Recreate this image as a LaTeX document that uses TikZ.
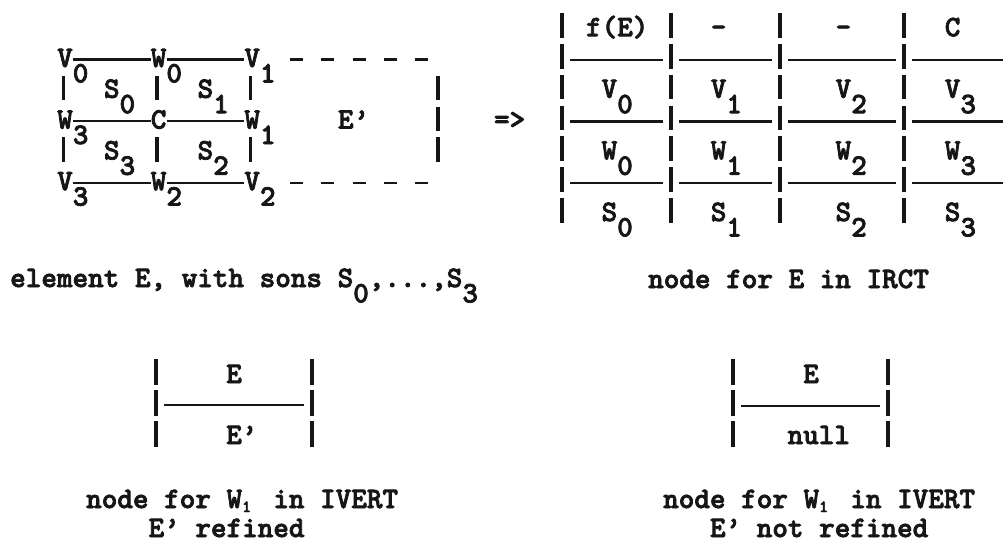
\documentclass[tikz,border=0pt]{standalone}
\usepackage{fontspec}
\definecolor{ink}{RGB}{22,22,22}
% bold typewriter face: 15.6pt per character, 30.8pt per line
\newfontfamily\twface{lmmonolt10-bold.otf}[FakeBold=2.5]
\newcommand\twfont{\twface\fontsize{29.7}{30.8}\selectfont}
% half-line-down digit inside a running line
\newcommand\dn[1]{\raisebox{-15.4pt}{#1}}
% small index digit in the captions, one character cell wide
\newcommand\dnsmall[1]{\makebox[15.6pt][l]{\raisebox{-4pt}{\fontsize{17}{17}\selectfont #1}}}
\begin{document}
\begin{tikzpicture}[x=1pt,y=-1pt,
  txt/.style={inner sep=0pt,anchor=base,font=\twfont,text=ink,text height=15pt,text depth=0pt},
  caption text/.style={inner sep=0pt,anchor=base west,font=\twfont,text=ink},
  hrule/.style={draw=ink,line width=2.4pt},
  vbar/.style={draw=ink,line width=3.2pt},
  dashln/.style={draw=ink,line width=2.4pt,dash pattern=on 13pt off 18.2pt}]
\fill[white] (0,0) rectangle (1006,542);
\useasboundingbox (0,0) rectangle (1006,542);

% ---------- element E with its four sons ----------
\node[txt] (V0) at (65,67) {V};      \node[txt] (V0s) at (80.6,82.4) {0};
\node[txt] (W0) at (158.6,67) {W};   \node[txt] (W0s) at (174.2,82.4) {0};
\node[txt] (V1) at (252.2,67) {V};   \node[txt] (V1s) at (267.8,82.4) {1};
\node[txt] (S0) at (111.8,97.8) {S}; \node[txt] (S0s) at (127.4,113.2) {0};
\node[txt] (S1) at (205.4,97.8) {S}; \node[txt] (S1s) at (221,113.2) {1};
\node[txt] (W3) at (65,128.6) {W};   \node[txt] (W3s) at (80.6,144) {3};
\node[txt] (C)  at (158.6,128.6) {C};
\node[txt] (W1) at (252.2,128.6) {W}; \node[txt] (W1s) at (267.8,144) {1};
\node[txt] (Ep) at (353.6,128.6) {E’};
\node[txt] (S3) at (111.8,159.4) {S}; \node[txt] (S3s) at (127.4,174.8) {3};
\node[txt] (S2) at (205.4,159.4) {S}; \node[txt] (S2s) at (221,174.8) {2};
\node[txt] (V3) at (65,190.2) {V};   \node[txt] (V3s) at (80.6,205.6) {3};
\node[txt] (W2) at (158.6,190.2) {W}; \node[txt] (W2s) at (174.2,205.6) {2};
\node[txt] (V2) at (252.2,190.2) {V}; \node[txt] (V2s) at (267.8,205.6) {2};

\draw[hrule] (V0.east) -- (W0.west);
\draw[hrule] (W0.east) -- (V1.west);
\draw[hrule] (W3.east) -- (C.west);
\draw[hrule] (C.east) -- (W1.west);
\draw[hrule] (V3.east) -- (W2.west);
\draw[hrule] (W2.east) -- (V2.west);

% neighbour E' (dashed outline)
\coordinate (EpTop) at (428,59.5);
\coordinate (EpBot) at (428,182.7);
\draw[dashln] ([xshift=30pt]V1.east) -- (EpTop);
\draw[dashln] ([xshift=30pt]V2.east) -- (EpBot);
\foreach \b in {97.8,128.6,159.4}
  \draw[vbar] (438,\b-22) -- (438,\b+2.5);
% vertical edges between the rows
\foreach \x in {63.5,157,250.5}
  \foreach \b in {97.8,159.4}
    \draw[vbar] (\x,\b-22) -- (\x,\b+2.5);

\node[txt] (goes) at (509.6,128.6) {=>};

\node[caption text] (capE) at (10,287) {element E, with sons S\dn{0},...,S\dn{3}};

% ---------- node for E in IRCT ----------
\node[txt] (fE) at (617.2,36.2) {f(E)};
\node[txt] (n1) at (718.6,36.2) {-};
\node[txt] (n2) at (843.4,36.2) {-};
\node[txt] (tC) at (952.6,36.2) {C};
\foreach \l/\b in {V/97.8,W/159.4,S/221}{
  \node[txt] (t\l0) at (609.4,\b) {\l}; \node[txt] (t\l0s) at (625,\b+15.4) {0};
  \node[txt] (t\l1) at (718.6,\b) {\l}; \node[txt] (t\l1s) at (734.2,\b+15.4) {1};
  \node[txt] (t\l2) at (843.4,\b) {\l}; \node[txt] (t\l2s) at (859,\b+15.4) {2};
  \node[txt] (t\l3) at (952.6,\b) {\l}; \node[txt] (t\l3s) at (968.2,\b+15.4) {3};
}
\foreach \x in {562,671,780,904}
  \foreach \b in {36.2,67,97.8,128.6,159.4,190.2,221}
    \draw[vbar] (\x,\b-23) -- (\x,\b+1.5);
\foreach \y in {60,121.6,183.2}{
  \draw[hrule] (570,\y) -- (663,\y);
  \draw[hrule] (679,\y) -- (772,\y);
  \draw[hrule] (788,\y) -- (896,\y);
  \draw[hrule] (912,\y) -- (1003,\y);
}
\node[caption text] (capI) at (648,288) {node for E in IRCT};

% ---------- node for W1 in IVERT, E' refined ----------
\node[txt] (aE)  at (234,383) {E};
\node[txt] (aEp) at (241.8,444) {E’};
\foreach \x in {156,312}
  \foreach \b in {383,414,445}
    \draw[vbar] (\x,\b-24) -- (\x,\b+1.5);
\draw[hrule] (164,405) -- (304,405);
\node[caption text] (capA1) at (86,508) {node for W\dnsmall{1} in IVERT};
\node[caption text] (capA2) at (148.4,537) {E’ refined};

% ---------- node for W1 in IVERT, E' not refined ----------
\node[txt] (bE)    at (811,383) {E};
\node[txt] (bNull) at (818.8,444) {null};
\foreach \x in {733,888}
  \foreach \b in {383,414,445}
    \draw[vbar] (\x,\b-24) -- (\x,\b+1.5);
\draw[hrule] (741,406) -- (880,406);
\node[caption text] (capB1) at (663,508) {node for W\dnsmall{1} in IVERT};
\node[caption text] (capB2) at (709.8,537) {E’ not refined};
\end{tikzpicture}
\end{document}
